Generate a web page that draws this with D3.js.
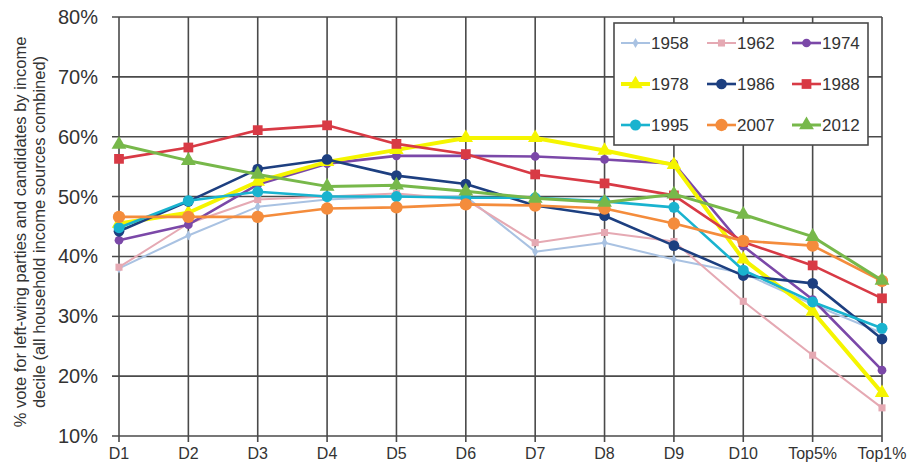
<!DOCTYPE html>
<html><head><meta charset="utf-8">
<script src="https://cdn.jsdelivr.net/npm/d3@7"></script>
<style>body{margin:0;background:#fff}text{font-family:"Liberation Sans",Arial,sans-serif}</style>
</head><body>
<svg id="c" width="910" height="466"></svg>
<script>
const categories = ["D1","D2","D3","D4","D5","D6","D7","D8","D9","D10","Top5%","Top1%"];
const yTicks = [10,20,30,40,50,60,70,80];
const years = ["1958","1962","1974","1978","1986","1988","1995","2007","2012"];
const v1958 = [38,43.5,48.3,49.5,50,50,40.8,42.3,39.5,37.2,32,27.2];
const v1962 = [38.2,45.5,49.5,50,50.5,49.5,42.3,44,42.5,32.5,23.5,14.7];
const v1974 = [42.7,45.3,52,55.5,56.8,56.8,56.7,56.2,55.5,41.7,32.8,21];
const v1978 = [45.5,47.3,52.5,55.8,57.8,59.8,59.8,57.7,55.3,39.5,30.8,17.2];
const v1986 = [44.2,49.2,54.6,56.2,53.5,52.1,48.5,46.8,41.8,36.8,35.5,26.2];
const v1988 = [56.3,58.2,61.1,61.9,58.8,57.1,53.7,52.2,50.2,42.4,38.5,33];
const v1995 = [44.8,49.3,50.8,50,50,49.8,49.8,49.2,48.2,37.7,32.4,28];
const v2007 = [46.6,46.6,46.6,48,48.2,48.7,48.5,48,45.5,42.6,41.8,35.9];
const v2012 = [58.7,56,53.7,51.7,51.9,50.9,49.7,49,50.4,47,43.3,36];
const seriesValues = [v1958,v1962,v1974,v1978,v1986,v1988,v1995,v2007,v2012];
const colors = ["#a9c2e2","#e5a9b3","#7b48a8","#f5f500","#1d3f80","#d83a45","#19b3cf","#f48c3c","#77b84a"];
const widths = [2,2,2.6,4,2.6,2.6,2.6,2.6,3];
const shapes = [d3.symbolDiamond,d3.symbolSquare,d3.symbolCircle,d3.symbolTriangle,d3.symbolCircle,d3.symbolSquare,d3.symbolCircle,d3.symbolCircle,d3.symbolTriangle];
const msize = [30,50,60,90,90,95,95,120,95];

const svg = d3.select("#c");
const x = d3.scalePoint().domain(categories).range([119,882]);
const y = d3.scaleLinear().domain([10,80]).range([436,17]);

// grid
const g = svg.append("g");
g.selectAll(".h").data(yTicks).join("line")
 .attr("x1",112).attr("x2",882).attr("y1",d=>y(d)).attr("y2",d=>y(d))
 .attr("stroke","#4a4a4a").attr("stroke-width",1.6);
g.selectAll(".v").data(categories).join("line")
 .attr("x1",d=>x(d)).attr("x2",d=>x(d)).attr("y1",y(80)).attr("y2",y(10)+6)
 .attr("stroke","#4a4a4a").attr("stroke-width",1.6);

// y labels
svg.selectAll(".yl").data(yTicks).join("text")
 .attr("x",98).attr("y",d=>y(d)+7).attr("text-anchor","end")
 .attr("font-size",20).attr("fill","#333").text(d=>d+"%");
// x labels
svg.selectAll(".xl").data(categories).join("text")
 .attr("x",d=>x(d)).attr("y",459).attr("text-anchor","middle")
 .attr("font-size",16).attr("fill","#333").text(d=>d);

// axis title
const t = svg.append("text").attr("transform","translate(26,232) rotate(-90)")
 .attr("text-anchor","middle").attr("font-size",16.5).attr("fill","#333");
t.append("tspan").attr("x",0).attr("dy",0).text("% vote for left-wing parties and candidates by income");
t.append("tspan").attr("x",0).attr("dy",19).text("decile (all household income sources combined)");

// lines
const line = d3.line().x((d,i)=>x(categories[i])).y(d=>y(d));
seriesValues.forEach((vals,k)=>{
  const s = svg.append("g");
  s.append("path").datum(vals).attr("d",line).attr("fill","none")
   .attr("stroke",colors[k]).attr("stroke-width",widths[k]).attr("stroke-linejoin","round");
  s.selectAll("path.m").data(vals).join("path").attr("class","m")
   .attr("transform",(d,i)=>`translate(${x(categories[i])},${y(d)})`)
   .attr("d",d3.symbol().type(shapes[k]).size(msize[k])).attr("fill",colors[k]);
});

// legend
const lg = svg.append("g");
lg.append("rect").attr("x",614).attr("y",23).attr("width",254).attr("height",122)
 .attr("fill","#fff").attr("stroke","#4a4a4a").attr("stroke-width",1.6);
const colX = [621,707,792], rowY = [43,84,125];
years.forEach((yr,k)=>{
  const cx = colX[k%3], cy = rowY[Math.floor(k/3)];
  lg.append("line").attr("x1",cx).attr("x2",cx+29).attr("y1",cy).attr("y2",cy)
    .attr("stroke",colors[k]).attr("stroke-width",widths[k]);
  lg.append("path").attr("transform",`translate(${cx+14.5},${cy})`)
    .attr("d",d3.symbol().type(shapes[k]).size(msize[k])).attr("fill",colors[k]);
  lg.append("text").attr("x",cx+30).attr("y",cy+6).attr("font-size",17)
    .attr("fill","#333").text(yr);
});
</script>
</body></html>
